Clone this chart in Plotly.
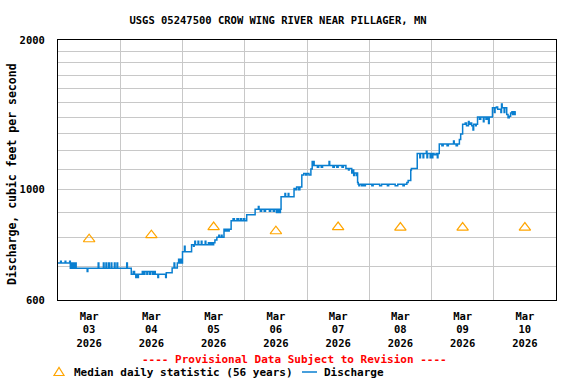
import math
import pandas as pd
import plotly.graph_objects as go

# ---------------- data ----------------
start_time = "2026-03-03 00:00"

# 15-minute discharge record, given as change points (hours after start, cfs)
q_hours = [
    # Mar 03
    0, 1.0, 1.25, 2.75, 3.0, 4.5, 4.75, 5.25, 5.5, 6.0, 6.25, 6.75, 7.0,
    11.25, 11.5,
    15.5, 15.75, 17.5, 17.75, 18.5, 18.75, 19.5, 19.75, 20.5, 20.75, 21.75, 22.0, 22.75, 23.0, 26.5, 26.75,
    # Mar 04
    28.25, 29.0, 29.5, 30.0, 30.25, 30.75, 31.0,
    32.5, 33.0, 33.5, 34.25, 34.5, 35.25, 35.75, 36.5, 37.0, 37.5,
    38.5, 38.75, 41.5, 41.75,
    44.0, 44.75, 45.0, 46.0, 46.5, 46.75, 47.25, 47.5,
    # Mar 05
    48.0, 48.75, 49.0,
    51.5, 52.25, 52.5, 52.75, 53.0, 54.0, 54.25, 55.25, 55.5, 56.75, 57.0,
    58.0, 58.5, 59.0, 59.5, 60.0, 60.5,
    61.25, 62.0, 62.25, 63.0, 63.25,
    64.0, 64.5, 65.0, 65.5, 66.0,
    66.75, 67.5, 68.0, 69.0, 69.5, 70.25, 70.75, 71.5, 72.0,
    # Mar 06
    72.75,
    76.0, 77.25, 77.5, 78.0, 78.5, 79.5, 80.0, 81.5, 82.0, 83.0, 83.5, 84.25, 84.5, 85.0, 85.25, 85.5, 85.75,
    86.0, 87.5, 87.75, 88.75, 89.0,
    91.0, 91.5, 92.0, 92.75, 93.25,
    94.0, 94.75, 95.5,
    # Mar 07
    96.0, 96.75,
    97.5, 98.0, 98.25, 98.5, 98.75,
    100.0, 100.5, 101.5, 102.0, 104.5, 104.75, 106.0, 106.5, 107.5, 108.0, 109.5, 110.0,
    111.0, 112.0, 112.25, 113.25, 113.75, 114.0, 114.25, 115.0, 115.25,
    115.5, 115.75, 116.0, 116.25, 117.0, 117.25, 117.75, 118.0, 118.25, 118.5,
    # Mar 08
    121.0, 121.5, 124.0, 124.75, 127.0, 127.5, 130.0, 131.0, 133.0, 133.5,
    134.5, 135.0, 136.0, 136.25, 138.5,
    139.5, 139.75, 140.75, 141.0, 142.0, 142.25, 142.5, 143.5, 143.75,
    # Mar 09
    144.25, 144.5, 145.0, 145.75, 146.25, 146.5,
    147.0, 148.0, 148.5, 150.0, 150.5, 152.5, 152.75, 153.5, 154.0,
    154.75, 155.25, 156.0,
    157.0, 157.5, 158.25, 158.5, 159.0, 159.5, 160.0, 160.25, 161.0, 161.25,
    161.75, 162.5, 163.0, 164.0, 164.25, 165.0, 165.5, 166.0, 166.25,
    167.5,
    # Mar 10
    168.25, 168.5, 169.0, 169.5, 170.75, 171.0, 171.25, 172.0, 172.25,
    173.0, 173.5, 174.0, 174.5, 175.0, 175.25, 175.5, 176.0, 176.25, 176.5,
]
q_cfs = [
    # Mar 03
    712, 718, 712, 718, 712, 718, 695, 712, 695, 712, 695, 712, 695,
    685, 695,
    712, 695, 712, 695, 712, 695, 712, 695, 712, 695, 712, 695, 712, 695, 712, 695,
    # Mar 04
    676, 685, 676, 666, 676, 666, 676,
    685, 676, 685, 676, 685, 676, 685, 676, 685, 676,
    666, 676, 666, 681,
    696, 712, 696, 712, 725, 712, 725, 712,
    # Mar 05
    750, 770, 750,
    775, 770, 775, 788, 775, 788, 775, 788, 775, 788, 775,
    782, 775, 782, 775, 782, 792,
    802, 810, 802, 810, 802,
    833, 826, 833, 826, 833,
    866, 874, 866, 874, 866, 874, 866, 874, 866,
    # Mar 06
    890,
    913, 925, 913, 905, 913, 905, 913, 905, 913, 905, 913, 900, 913, 900, 913, 900, 913,
    968, 983, 968, 983, 968,
    1006, 1000, 1012, 1000, 1012,
    1070, 1078, 1070,
    # Mar 07
    1078, 1070,
    1100, 1140, 1118, 1140, 1118,
    1110, 1118, 1110, 1118, 1140, 1118, 1110, 1118, 1110, 1118, 1110, 1118,
    1103, 1095, 1103, 1080, 1095, 1068, 1080, 1068, 1080,
    1034, 1026, 1018, 1026, 1018, 1026, 1018, 1026, 1018, 1026,
    # Mar 08
    1018, 1026, 1018, 1026, 1018, 1026, 1018, 1026, 1018, 1026,
    1034, 1043, 1095, 1103, 1183,
    1160, 1183, 1160, 1183, 1195, 1160, 1183, 1160, 1183,
    # Mar 09
    1160, 1183, 1175, 1183, 1160, 1183,
    1236, 1225, 1236, 1225, 1236, 1253, 1236, 1225, 1236,
    1262, 1294, 1354,
    1362, 1345, 1372, 1354, 1362, 1345, 1318, 1354, 1345, 1354,
    1400, 1385, 1400, 1370, 1400, 1385, 1400, 1358, 1400,
    1461,
    # Mar 10
    1430, 1461, 1467, 1452, 1430, 1487, 1461, 1430, 1461,
    1416, 1395, 1405, 1427, 1434, 1416, 1434, 1416, 1434, 1434,
]

median_days = ["2026-03-03 12:00", "2026-03-04 12:00", "2026-03-05 12:00", "2026-03-06 12:00",
               "2026-03-07 12:00", "2026-03-08 12:00", "2026-03-09 12:00", "2026-03-10 12:00"]
median_cfs = [795, 810, 841, 825, 841, 839, 839, 839]

x_tick_days = ["03", "04", "05", "06", "07", "08", "09", "10"]
y_grid_values = list(range(600, 2001, 100))
y_tick_labels = {600: "600", 1000: "1000", 2000: "2000"}
y_limits = [600, 2000]

# ---------------- figure ----------------
FONT = "DejaVu Sans Mono"
BLUE = "#0a7fd0"
ORANGE = "#ffa500"

q_time = pd.Timestamp(start_time) + pd.to_timedelta(q_hours, unit="h")

fig = go.Figure()
fig.add_trace(go.Scatter(
    x=q_time, y=q_cfs, mode="lines", line=dict(color=BLUE, width=1.5, shape="hv"),
    name="Discharge", showlegend=False, hoverinfo="skip"))
fig.add_trace(go.Scatter(
    x=pd.to_datetime(median_days), y=median_cfs, mode="markers",
    marker=dict(symbol="triangle-up-open", size=10, color=ORANGE, line=dict(width=1.2, color=ORANGE)),
    name="Median daily statistic (56 years)", showlegend=False, hoverinfo="skip"))

L, R, T, B = 58, 20, 40, 84
W, H = 576, 384
PW, PH = W - L - R, H - T - B


def pxx(px):
    return (px - L) / PW


def pxy(py):
    return (H - B - py) / PH


fig.update_layout(
    width=W, height=H,
    margin=dict(l=L, r=R, t=T, b=B, autoexpand=False),
    paper_bgcolor="white", plot_bgcolor="white",
    font=dict(family=FONT, size=11, color="black", weight="bold"),
    title=dict(text="USGS 05247500 CROW WING RIVER NEAR PILLAGER, MN",
               x=278 / W, xref="container", xanchor="center",
               y=1 - 20 / H, yref="container", yanchor="middle",
               font=dict(family=FONT, size=10.5, color="black", weight="bold")),
    showlegend=False,
)

fig.update_xaxes(
    type="date",
    range=["2026-03-03 00:00", "2026-03-11 00:00"],
    tickmode="array",
    tickvals=pd.to_datetime(median_days),
    ticktext=[f"Mar<br>{d}<br>2026" for d in x_tick_days],
    ticks="", showgrid=False,
    minor=dict(tick0="2026-03-03", dtick=86400000, showgrid=True, gridcolor="#c8c8c8", gridwidth=1, ticks=""),
    showline=True, linecolor="black", linewidth=1, mirror=True,
    tickfont=dict(family=FONT, size=10.5, weight="bold"),
    ticklabelstandoff=6,
    zeroline=False, automargin=False,
)
fig.update_yaxes(
    type="log",
    range=[math.log10(y_limits[0]), math.log10(y_limits[1])],
    tickmode="array",
    tickvals=y_grid_values,
    ticktext=[y_tick_labels.get(v, "") for v in y_grid_values],
    ticks="", showgrid=True, gridcolor="#c8c8c8", gridwidth=1,
    showline=True, linecolor="black", linewidth=1, mirror=True,
    tickfont=dict(family=FONT, size=10.5, weight="bold"),
    ticklabelstandoff=10,
    zeroline=False, automargin=False,
)

annotations = [
    dict(text="Discharge, cubic feet per second", textangle=-90,
         x=pxx(12), y=pxy(174), xref="paper", yref="paper",
         xanchor="center", yanchor="middle", showarrow=False,
         font=dict(family=FONT, size=11.5, weight="bold")),
    dict(text="---- Provisional Data Subject to Revision ----",
         x=pxx(294), y=pxy(359), xref="paper", yref="paper",
         xanchor="center", yanchor="middle", showarrow=False,
         font=dict(family=FONT, size=11, color="#ff0000", weight="bold")),
    dict(text="Median daily statistic (56 years)",
         x=pxx(72), y=pxy(372), xref="paper", yref="paper",
         xanchor="left", yanchor="middle", showarrow=False,
         font=dict(family=FONT, size=11, weight="bold")),
    dict(text="Discharge",
         x=pxx(322), y=pxy(372), xref="paper", yref="paper",
         xanchor="left", yanchor="middle", showarrow=False,
         font=dict(family=FONT, size=11, weight="bold")),
]
fig.update_layout(annotations=annotations)

shapes = [
    # legend glyph: open triangle
    dict(type="path", xref="paper", yref="paper",
         path=f"M {pxx(54)} {pxy(375.5)} L {pxx(64)} {pxy(375.5)} L {pxx(59)} {pxy(367.5)} Z",
         line=dict(color=ORANGE, width=1.2), fillcolor="rgba(0,0,0,0)"),
    # legend glyph: discharge line
    dict(type="line", xref="paper", yref="paper",
         x0=pxx(302), x1=pxx(317), y0=pxy(372), y1=pxy(372),
         line=dict(color=BLUE, width=1.5)),
]
fig.update_layout(shapes=shapes)

fig.write_html("out.html",
               config={"displayModeBar": False, "staticPlot": True},
               post_script="document.body.style.margin='0px';document.body.style.overflow='hidden';")
